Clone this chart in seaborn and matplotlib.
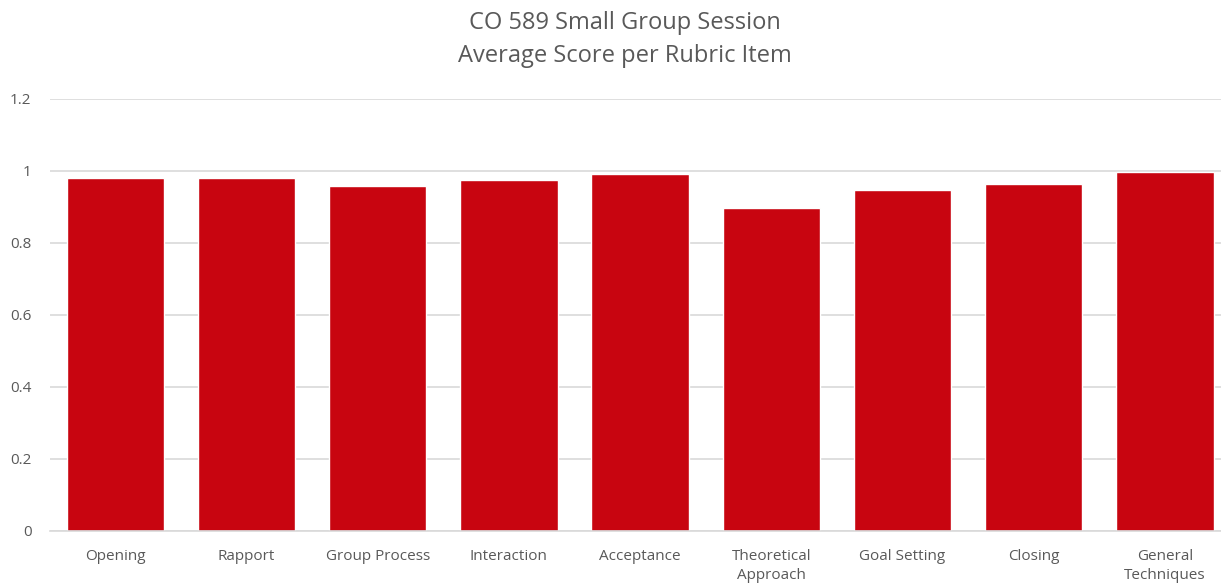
import pandas as pd
import matplotlib.pyplot as plt
import seaborn as sb

# Data
categories = ['Opening', 'Rapport', 'Group Process', 'Interaction', 'Acceptance',
              'Theoretical\nApproach', 'Goal Setting', 'Closing', 'General\nTechniques']
scores = [0.981, 0.981, 0.958, 0.974, 0.991, 0.898, 0.947, 0.964, 0.996]
y_ticks = [0, 0.2, 0.4, 0.6, 0.8, 1, 1.2]
y_labels = ['0', '0.2', '0.4', '0.6', '0.8', '1', '1.2']

bar_colour = '#C80510'
text_colour = '#595959'
grid_colour = '#D9D9D9'

df = pd.DataFrame({'item': categories, 'score': scores})

sb.set_style('white')
plt.rcParams['font.family'] = ['Open Sans', 'DejaVu Sans']

fig = plt.figure(figsize=(12.21, 5.86), dpi=100)
# plot area runs slightly past the right edge, as in the cropped screenshot
ax = fig.add_axes([0.0407, 0.0939, 0.967, 0.7374])

sb.barplot(data=df, x='item', y='score', color=bar_colour, width=0.743,
           saturation=1, ax=ax, zorder=2)

ax.set_ylim(0, 1.2)
ax.set_yticks(y_ticks, labels=y_labels)
ax.set_xlim(-0.5, len(categories) - 0.5)
ax.yaxis.grid(True, color=grid_colour, linewidth=1.2, zorder=0)
ax.set_axisbelow(True)
for side in ['top', 'right', 'left']:
    ax.spines[side].set_visible(False)
ax.spines['bottom'].set_color(grid_colour)
ax.spines['bottom'].set_linewidth(1.2)
ax.tick_params(axis='both', length=0, labelsize=11, colors=text_colour)
ax.tick_params(axis='x', pad=13)
ax.tick_params(axis='y', pad=13)
ax.set_xlabel('')
ax.set_ylabel('')
for lbl in ax.get_xticklabels():
    lbl.set_linespacing(1.4)

fig.suptitle('CO 589 Small Group Session\nAverage Score per Rubric Item',
             x=0.5115, y=0.982, fontsize=17, color=text_colour, linespacing=1.5)

plt.savefig('out.png', dpi=100)
